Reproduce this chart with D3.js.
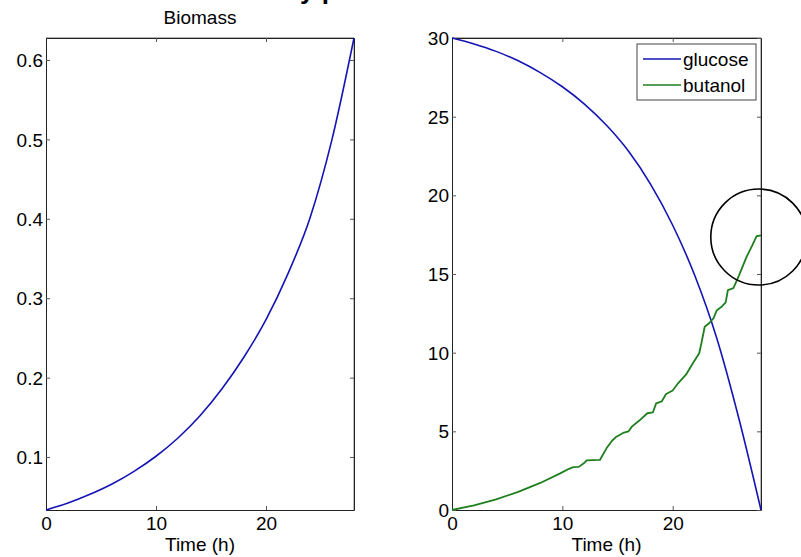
<html>

<head>
  <script src="https://d3js.org/d3.v7.min.js"></script>
  <style>
    body {
      margin: 0;
      background: white;
    }

    text {
      font-family: "Liberation Sans", Arial, sans-serif;
      fill: #000;
    }
  </style>
</head>

<body>
  <svg width="801" height="557" id="chart"></svg>

  <script>
    // values
    const biomassTime = [0, 2, 4, 6, 8, 10, 12, 14, 16, 18, 20, 22, 24, 26, 28];
    const biomass = [0.0333, 0.042, 0.053, 0.066, 0.082, 0.101, 0.124, 0.152, 0.186, 0.226, 0.273, 0.331, 0.401, 0.500, 0.6277];

    const glucoseTime = [0, 2, 4, 6, 8, 10, 12, 14, 16, 18, 20, 22, 24, 26, 28];
    const glucose = [30, 29.62, 29.15, 28.55, 27.8, 26.9, 25.8, 24.45, 22.8, 20.7, 18.1, 14.9, 10.9, 5.8, 0];

    const butanolTime = [0, 2, 4, 6, 8, 9.8, 10.6, 11.0, 11.5, 12.0, 12.2, 13.4, 14.0, 14.5, 14.9, 15.5, 16.0, 16.3,
      17.0, 17.7, 18.2, 18.5, 19.0, 19.4, 20.0, 20.5, 21.2, 21.8, 22.4, 22.6, 22.9, 23.3, 23.7, 24.0, 24.4, 24.8, 25.0,
      25.5, 26.0, 26.7, 27.2, 27.6, 28];
    const butanol = [0, 0.3, 0.68, 1.15, 1.72, 2.33, 2.62, 2.72, 2.74, 3.0, 3.15, 3.18, 3.92, 4.4, 4.66, 4.9, 5.0, 5.3,
      5.7, 6.15, 6.2, 6.78, 6.9, 7.37, 7.6, 8.07, 8.6, 9.3, 9.96, 10.6, 11.65, 11.87, 12.2, 12.7, 12.9, 13.2, 13.98,
      14.1, 14.9, 16.1, 16.8, 17.4, 17.45];

    const timeTicks = [0, 10, 20];
    const biomassTicks = [0.1, 0.2, 0.3, 0.4, 0.5, 0.6];
    const concTicks = [0, 5, 10, 15, 20, 25, 30];
    const legendNames = ["glucose", "butanol"];
    const seriesColors = ["#1414b4", "#1f7f1f"];

    const svg = d3.select("#chart");

    // cut-off figure title at the very top
    svg.append("text")
      .attr("x", 300)
      .attr("y", -1.5)
      .style("font-size", "26px")
      .style("font-weight", "bold")
      .text("y p");

    function drawPanel(left, right, xDomain, yDomain, xTicks, yTicks) {
      const x = d3.scaleLinear().domain(xDomain).range([left, right]);
      const y = d3.scaleLinear().domain(yDomain).range([510, 38]);
      const g = svg.append("g");

      // box
      g.append("line").attr("x1", left).attr("x2", right).attr("y1", 38).attr("y2", 38).attr("stroke", "#666");
      g.append("line").attr("x1", right).attr("x2", right).attr("y1", 38).attr("y2", 510).attr("stroke", "#777");

      // inward ticks on all four sides
      const bottom = d3.axisBottom(x).tickValues(xTicks).tickSizeInner(-4).tickSizeOuter(0).tickPadding(9);
      const gb = g.append("g").attr("transform", "translate(0,510)").call(bottom);
      g.append("g").attr("transform", "translate(0,38)")
        .call(d3.axisTop(x).tickValues(xTicks).tickSizeInner(-4).tickSizeOuter(0).tickFormat(""));
      const leftAxis = d3.axisLeft(y).tickValues(yTicks).tickFormat(d3.format("~g"))
        .tickSizeInner(-4).tickSizeOuter(0).tickPadding(3);
      const gl = g.append("g").attr("transform", `translate(${left},0)`).call(leftAxis);
      g.append("g").attr("transform", `translate(${right},0)`)
        .call(d3.axisRight(y).tickValues(yTicks).tickSizeInner(-4).tickSizeOuter(0).tickFormat(""));

      g.selectAll(".domain").attr("stroke", "#222");
      g.selectAll(".tick line").attr("stroke", "#555");
      g.selectAll("text").style("font-size", "19px").style("font-family", "'Liberation Sans', Arial, sans-serif")
        .attr("fill", "#000");
      gb.selectAll("text").attr("dy", null).attr("y", 20);
      gl.selectAll("text").attr("dy", "0.35em");

      g.append("text")
        .attr("x", (left + right) / 2)
        .attr("y", 551)
        .style("text-anchor", "middle")
        .style("font-size", "19px")
        .text("Time (h)");

      return { x, y };
    }

    // left panel: biomass
    const p1 = drawPanel(46, 354, [0, 28], [0.0333, 0.6277], timeTicks, biomassTicks);
    svg.append("text")
      .attr("x", 200)
      .attr("y", 24)
      .style("text-anchor", "middle")
      .style("font-size", "19px")
      .text("Biomass");

    const line1 = d3.line().x((d, i) => p1.x(biomassTime[i])).y(d => p1.y(d)).curve(d3.curveMonotoneX);
    svg.append("path")
      .attr("d", line1(biomass))
      .attr("fill", "none")
      .attr("stroke", seriesColors[0])
      .attr("stroke-width", 1.6);

    // right panel: glucose and butanol
    const p2 = drawPanel(452, 761, [0, 28], [0, 30], timeTicks, concTicks);

    const lineG = d3.line().x((d, i) => p2.x(glucoseTime[i])).y(d => p2.y(d)).curve(d3.curveMonotoneX);
    svg.append("path")
      .attr("d", lineG(glucose))
      .attr("fill", "none")
      .attr("stroke", seriesColors[0])
      .attr("stroke-width", 1.6);

    const lineB = d3.line().x((d, i) => p2.x(butanolTime[i])).y(d => p2.y(d));
    svg.append("path")
      .attr("d", lineB(butanol))
      .attr("fill", "none")
      .attr("stroke", seriesColors[1])
      .attr("stroke-width", 1.8)
      .attr("stroke-linejoin", "round");

    // legend
    const legend = svg.append("g").attr("transform", "translate(637,44)");
    legend.append("rect")
      .attr("width", 119)
      .attr("height", 56)
      .attr("fill", "white")
      .attr("stroke", "#444");
    legendNames.forEach((name, i) => {
      legend.append("line")
        .attr("x1", 6).attr("x2", 44)
        .attr("y1", 15 + i * 26).attr("y2", 15 + i * 26)
        .attr("stroke", seriesColors[i])
        .attr("stroke-width", 1.6);
      legend.append("text")
        .attr("x", 46)
        .attr("y", 15 + i * 26)
        .attr("dy", "0.35em")
        .style("font-size", "19px")
        .text(name);
    });

    // hand-drawn circle around the butanol end point
    svg.append("circle")
      .attr("cx", p2.x(27.8))
      .attr("cy", p2.y(17.35))
      .attr("r", 48)
      .attr("fill", "none")
      .attr("stroke", "#000")
      .attr("stroke-width", 1.6);
  </script>
</body>

</html>
